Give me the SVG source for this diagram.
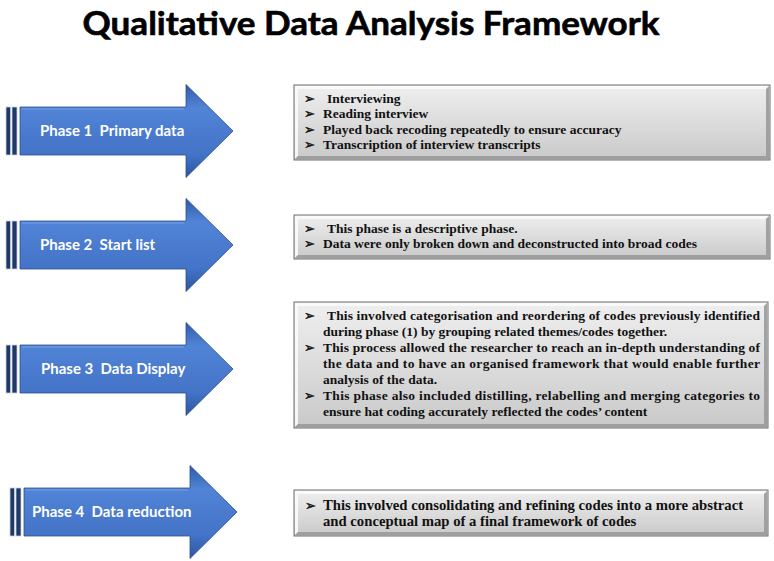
<svg xmlns="http://www.w3.org/2000/svg" width="774" height="561" viewBox="0 0 774 561">
<style>
.title{font-family:Lato,"Open Sans","Liberation Sans",sans-serif;font-weight:bold;font-size:32px;fill:#000;stroke:#000;stroke-width:0.6}
.al{font-family:Lato,"Open Sans","Liberation Sans",sans-serif;font-weight:bold;font-size:15px;fill:#fff}
.bt{font-family:"Liberation Serif","Times New Roman",serif;font-weight:bold;font-size:13.5px;fill:#111}
.b3{font-size:13.5px}
.b4{font-size:14.7px}
.bul{font-family:"DejaVu Sans",sans-serif;font-size:13px;fill:#111;stroke:#111;stroke-width:0.4}
.abody{fill:url(#gBody);stroke:#2b4f8e;stroke-width:0.8}
.stripe{fill:#1f3864;stroke:#c9d3e6;stroke-width:0.8}
.bx{fill:url(#gBox);stroke:#6f6f6f;stroke-width:1}
.hl{fill:#fbfbfb;opacity:0.9}
.sh{fill:#9a9a9a;opacity:0.9}
</style>
<defs>
<linearGradient id="gBody" x1="0" y1="0" x2="0" y2="1">
<stop offset="0" stop-color="#2f5ba8"/>
<stop offset="0.25" stop-color="#5184d6"/>
<stop offset="0.5" stop-color="#4a7bcf"/>
<stop offset="0.75" stop-color="#4374c8"/>
<stop offset="1" stop-color="#2c56a0"/>
</linearGradient>
<linearGradient id="gBox" x1="0" y1="0" x2="0" y2="1">
<stop offset="0" stop-color="#efefef"/>
<stop offset="1" stop-color="#c9c9c9"/>
</linearGradient>
<g id="arrow">
<rect class="stripe" x="6" y="-24" width="4.5" height="48"/>
<rect class="stripe" x="12" y="-24" width="5" height="48"/>
<path class="abody" d="M20,-24 H186 V-46.5 L233,0 L186,46.5 V24 H20 Z"/>
<path d="M22,-22 H184" stroke="#7fa6e6" stroke-width="1.2" fill="none" opacity="0.8"/>
</g>
</defs>

<text class="title" x="371" y="35" text-anchor="middle" textLength="577" lengthAdjust="spacingAndGlyphs">Qualitative Data Analysis Framework</text>

<g id="phase1">
<use href="#arrow" transform="translate(0,131)"/>
<text class="al" x="40" y="136" xml:space="preserve">Phase 1  Primary data</text>
</g>
<g id="phase2">
<use href="#arrow" transform="translate(0,245)"/>
<text class="al" x="40" y="250" xml:space="preserve">Phase 2  Start list</text>
</g>
<g id="phase3">
<use href="#arrow" transform="translate(0,369)"/>
<text class="al" x="41" y="374" xml:space="preserve">Phase 3  Data Display</text>
</g>
<g id="phase4">
<use href="#arrow" transform="translate(4,512)"/>
<text class="al" x="32" y="517" xml:space="preserve">Phase 4  Data reduction</text>
</g>

<g id="box1">
<rect class="bx" x="294" y="85" width="476" height="75"/>
<path class="hl" d="M295,86 H769 L766,89 H298 V156 L295,159 Z"/>
<path class="sh" d="M769,86 V159 H295 L298,156 H766 V89 Z"/>
<text class="bul" x="304" y="103">➢</text>
<text class="bt" x="327" y="103">Interviewing</text>
<text class="bul" x="304" y="118">➢</text>
<text class="bt" x="323" y="118">Reading interview</text>
<text class="bul" x="304" y="134">➢</text>
<text class="bt" x="323" y="134">Played back recoding repeatedly to ensure accuracy</text>
<text class="bul" x="304" y="149">➢</text>
<text class="bt" x="323" y="149">Transcription of interview transcripts</text>
</g>

<g id="box2">
<rect class="bx" x="294" y="215" width="476" height="44"/>
<path class="hl" d="M295,216 H769 L766,219 H298 V255 L295,258 Z"/>
<path class="sh" d="M769,216 V258 H295 L298,255 H766 V219 Z"/>
<text class="bul" x="304" y="233">➢</text>
<text class="bt" x="327" y="233">This phase is a descriptive phase.</text>
<text class="bul" x="304" y="248">➢</text>
<text class="bt" x="323" y="248">Data were only broken down and deconstructed into broad codes</text>
</g>

<g id="box3">
<rect class="bx" x="294" y="302" width="474" height="126"/>
<path class="hl" d="M295,303 H767 L764,306 H298 V424 L295,427 Z"/>
<path class="sh" d="M767,303 V427 H295 L298,424 H764 V306 Z"/>
<text class="bul" x="304" y="320">➢</text>
<text class="bt b3" x="327" y="320" textLength="433" lengthAdjust="spacing">This involved categorisation and reordering of codes previously identified</text>
<text class="bt b3" x="323" y="336">during phase (1) by grouping related themes/codes together.</text>
<text class="bul" x="304" y="352">➢</text>
<text class="bt b3" x="323" y="352" textLength="437" lengthAdjust="spacing">This process allowed the researcher to reach an in-depth understanding of</text>
<text class="bt b3" x="323" y="368" textLength="437" lengthAdjust="spacing">the data and to have an organised framework that would enable further</text>
<text class="bt b3" x="323" y="384">analysis of the data.</text>
<text class="bul" x="304" y="400">➢</text>
<text class="bt b3" x="323" y="400" textLength="437" lengthAdjust="spacing">This phase also included distilling, relabelling and merging categories to</text>
<text class="bt b3" x="323" y="416">ensure hat coding accurately reflected the codes’ content</text>
</g>

<g id="box4">
<rect class="bx" x="294" y="490" width="474" height="46"/>
<path class="hl" d="M295,491 H767 L764,494 H298 V532 L295,535 Z"/>
<path class="sh" d="M767,491 V535 H295 L298,532 H764 V494 Z"/>
<text class="bul" x="305" y="510">➢</text>
<text class="bt b4" x="323" y="510">This involved consolidating and refining codes into a more abstract</text>
<text class="bt b4" x="323" y="526">and conceptual map of a final framework of codes</text>
</g>
</svg>
